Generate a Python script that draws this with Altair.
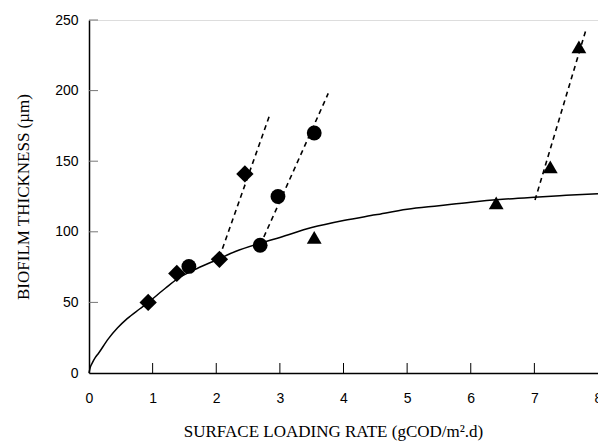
import altair as alt
import pandas as pd

# fitted saturation curve
curve_x = [0, 0.02, 0.05, 0.1, 0.15, 0.3, 0.45, 0.6, 0.8, 0.93, 1.2, 1.4, 1.7, 2.0, 2.3, 2.7, 3.0, 3.5, 4.0, 4.5, 5.0, 5.5, 6.0, 6.5, 7.0, 7.5, 8.0]
curve_y = [0, 4, 7, 11, 14, 24, 32, 38.5, 45.5, 50, 60, 67, 74, 80, 86, 92, 96, 103, 108, 112, 116, 118.5, 121, 123, 124.5, 125.8, 127]

# data points
diamond_x = [0.93, 1.38, 2.05, 2.45]
diamond_y = [50, 70.5, 80.5, 141]
circle_x = [1.57, 2.69, 2.97, 3.54]
circle_y = [75.5, 90.5, 125, 170]
triangle_x = [3.54, 6.40, 7.25, 7.70]
triangle_y = [96, 120.5, 146, 231]

# dashed departure lines
dash_diamond_x = [2.05, 2.83]
dash_diamond_y = [82, 181.5]
dash_circle_x = [2.69, 3.76]
dash_circle_y = [90.5, 198]
dash_triangle_x = [7.01, 7.81]
dash_triangle_y = [122.5, 243]

x_ticks = [1, 2, 3, 4, 5, 6, 7]
y_ticks = [50, 100, 150, 200, 250]
x_labels = [0, 1, 2, 3, 4, 5, 6, 7, 8]
y_labels = [0, 50, 100, 150, 200, 250]

W, H = 509, 353
xs = alt.Scale(domain=[0, 8], nice=False, zero=False)
ys = alt.Scale(domain=[0, 250], nice=False, zero=False)

x_axis = alt.Axis(values=x_labels, ticks=False, grid=False, labelFlush=False,
                  labelFont="Liberation Sans", labelFontSize=14, labelColor="black",
                  labelPadding=18, domainColor="black", domainWidth=1.5,
                  title="SURFACE LOADING RATE (gCOD/m².d)", titleFont="Liberation Serif",
                  titleFontSize=17, titleFontWeight="normal", titleColor="black",
                  titleX=244, titleY=63, titleBaseline="alphabetic")
y_axis = alt.Axis(values=y_labels, ticks=False, grid=False, labelFlush=False,
                  labelFont="Liberation Sans", labelFontSize=14, labelColor="black",
                  labelPadding=11, domainColor="black", domainWidth=1.5,
                  title="BIOFILM THICKNESS (µm)", titleFont="Liberation Serif",
                  titleFontSize=17, titleFontWeight="normal", titleColor="black",
                  titleX=-61, titleBaseline="alphabetic")


def X(f="x"):
    return alt.X(f"{f}:Q", scale=xs, axis=x_axis)


def Y(f="y"):
    return alt.Y(f"{f}:Q", scale=ys, axis=y_axis)


curve = alt.Chart(pd.DataFrame({"x": curve_x, "y": curve_y})).mark_line(
    color="black", strokeWidth=1.5, interpolate="monotone").encode(x=X(), y=Y())


def dash(xv, yv):
    return alt.Chart(pd.DataFrame({"x": xv, "y": yv})).mark_line(
        color="black", strokeWidth=1.6, strokeDash=[5, 4]).encode(x=X(), y=Y())


def pts(xv, yv, shape, size):
    return alt.Chart(pd.DataFrame({"x": xv, "y": yv})).mark_point(
        shape=shape, filled=True, color="black", opacity=1, size=size).encode(x=X(), y=Y())


xt = alt.Chart(pd.DataFrame({"x": x_ticks})).mark_rule(color="black", strokeWidth=1).encode(
    x=X(), y=alt.value(H), y2=alt.value(H - 10))
yt = alt.Chart(pd.DataFrame({"y": y_ticks})).mark_rule(color="#777777", strokeWidth=1).encode(
    y=Y(), x=alt.value(0), x2=alt.value(9))

chart = alt.layer(
    curve, xt, yt,
    dash(dash_diamond_x, dash_diamond_y),
    dash(dash_circle_x, dash_circle_y),
    dash(dash_triangle_x, dash_triangle_y),
    pts(diamond_x, diamond_y, "diamond", 300),
    pts(circle_x, circle_y, "circle", 220),
    pts(triangle_x, triangle_y, "triangle-up", 220),
).properties(
    width=W, height=H,
    padding={"left": 89, "top": 20, "right": 0, "bottom": 74},
    autosize=alt.AutoSizeParams(type="none"),
).configure_view(strokeWidth=0).configure(background="white")

chart.save("out.html", embed_options={"renderer": "svg", "actions": False})
